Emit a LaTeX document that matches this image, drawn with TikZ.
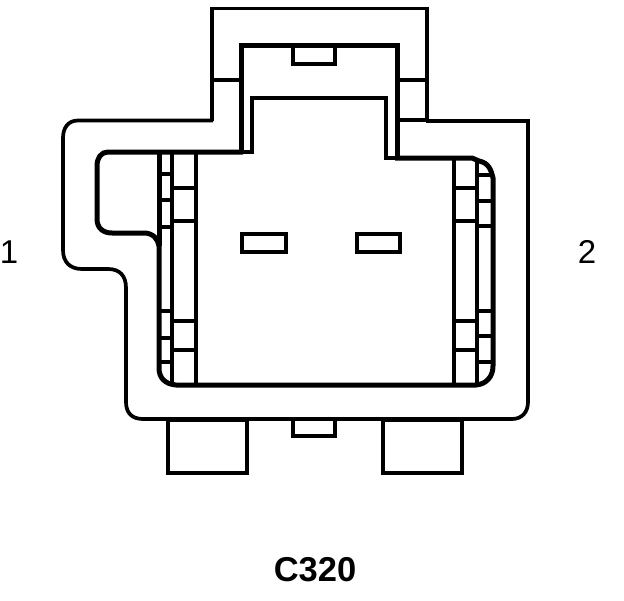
\documentclass[tikz,border=0pt]{standalone}
\usepackage{fontspec}
\setmainfont{Liberation Sans}
\tikzset{
  thinln/.style={draw=black,line width=3.7pt,line cap=butt,line join=miter},
  thickln/.style={draw=black,line width=5pt,line cap=butt,line join=miter},
  pinlabel/.style={font=\fontsize{33}{36}\selectfont,text=black,inner sep=0pt},
  titlelabel/.style={font=\bfseries\fontsize{34.5}{38}\selectfont,text=black,inner sep=0pt}
}
\begin{document}
\begin{tikzpicture}[x=1pt,y=-1pt]
\useasboundingbox[fill=white] (0,0) rectangle (624,600);
% outer housing
\draw[thinln] (213,120.5) -- (78,120.5) .. controls (68,120.5) and (63,128) .. (63,138)
  -- (63,250) .. controls (63,262) and (70,269) .. (82,269)
  -- (108,269) .. controls (120,269) and (126,276) .. (126,288)
  -- (126,402) .. controls (126,413) and (132,419) .. (143,419)
  -- (512,419) .. controls (522,419) and (528,412) .. (528,402)
  -- (528,121) -- (426,121);
% top hood
\draw[thinln] (212,121) -- (212,8.5) -- (427,8.5) -- (427,122);
\draw[thinln] (212,80) -- (241,80) (397,80) -- (427,80);
\draw[thinln] (397,120) -- (427,120);
% thick inner contour
\draw[thickln] (241,154) -- (241,45) -- (397,45) -- (397,160);
\draw[thickln] (243,152) -- (108,152) .. controls (101,152) and (97,158) .. (97,166)
  -- (97,219) .. controls (97,228) and (103,233) .. (112,233)
  -- (144,233) .. controls (153,233) and (158,239) .. (159,246)
  -- (159,368) .. controls (159,378) and (165,384) .. (176,385)
  -- (476,385) .. controls (487,384) and (493,376) .. (493,366)
  -- (493,178) .. controls (491,170) and (489,163) .. (479,161) -- (472,158) -- (395,158);
% inner thin step
\draw[thinln] (241,152) -- (252,152) -- (252,98) -- (386,98) -- (386,158) -- (397,158);
% top tab
\draw[thinln] (293,45) -- (293,64) -- (335,64) -- (335,45);
% columns left
\draw[thinln] (172,152) -- (172,385) (196,152) -- (196,385);
\draw[thinln] (160,174) -- (172,174) (160,200) -- (172,200) (160,227) -- (172,227)
  (160,311) -- (172,311) (160,338) -- (172,338) (160,362) -- (172,362);
\draw[thinln] (172,188) -- (196,188) (172,221) -- (196,221) (172,321) -- (196,321) (172,350) -- (196,350);
% top of left outer column
\draw[thickln] (159,152) -- (159,246);
% columns right
\draw[thinln] (454,158) -- (454,385) (477,158) -- (477,385);
\draw[thinln] (477,175) -- (493,175) (477,201) -- (493,201) (477,226) -- (493,226)
  (477,311) -- (493,311) (477,336) -- (493,336) (477,362) -- (493,362);
\draw[thinln] (454,188) -- (477,188) (454,221) -- (477,221) (454,321) -- (477,321) (454,350) -- (477,350);
% contact windows
\draw[thinln] (242,234) rectangle (286,252);
\draw[thinln] (357,234) rectangle (400,252);
% bottom tabs
\draw[thinln] (168,419) rectangle (247,473);
\draw[thinln] (383,419) rectangle (462,473);
\draw[thinln] (293,419) -- (293,436) -- (335,436) -- (335,419);
\draw[thickln] (166,419) -- (249,419) (381,419) -- (464,419);
% labels
\node[pinlabel] (pinone) at (9,252) {1};
\node[pinlabel] (pintwo) at (587,252) {2};
\node[titlelabel] (title) at (315,570) {C320};
\end{tikzpicture}
\end{document}
